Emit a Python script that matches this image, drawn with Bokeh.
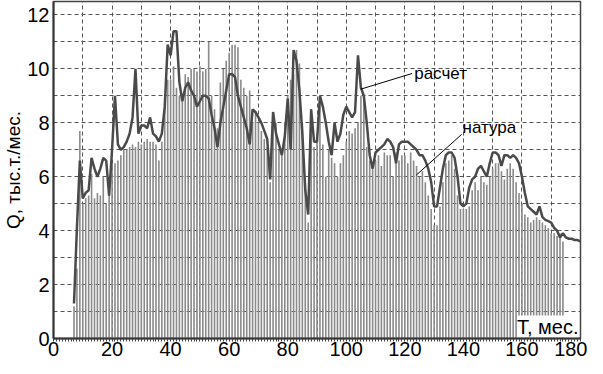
from bokeh.plotting import figure
from bokeh.models import SingleIntervalTicker, Range1d
from bokeh.core.properties import value
from bokeh.embed import file_html
from bokeh.resources import INLINE

FONT = "Liberation Sans"

# расчет (calculated), months 7..180
calc = [
    1.3, 4.1, 6.6, 5.2, 5.4, 5.5, 6.7, 6.3, 6.0, 6.3,
    6.7, 6.6, 5.3, 7.0, 9.0, 7.2, 7.0, 7.1, 7.3, 7.6,
    8.2, 10.0, 7.6, 7.9, 7.9, 7.8, 8.2, 7.6, 7.5, 7.3,
    7.6, 8.6, 10.9, 10.5, 11.4, 11.4, 9.5, 8.8, 9.3, 9.5,
    9.2, 9.0, 8.6, 8.8, 9.0, 9.0, 8.9, 8.3, 7.8, 7.1,
    8.0, 8.6, 9.2, 9.8, 9.8, 9.7, 9.0, 8.6, 8.2, 7.8,
    7.2, 8.5, 8.4, 8.2, 8.0, 7.7, 7.4, 5.9, 8.4, 7.6,
    7.2, 6.8, 7.5, 8.9, 7.0, 10.7, 10.3, 9.2, 7.6, 5.5,
    4.6, 8.5, 7.3, 7.3, 9.0, 8.6, 8.0, 7.3, 6.8, 8.0,
    7.3, 7.6, 8.3, 8.6, 8.4, 8.2, 8.4, 10.5, 9.3, 9.0,
    8.0, 6.8, 6.3, 6.9, 7.0, 7.1, 7.2, 7.4, 7.3, 7.1,
    6.5, 7.2, 7.3, 7.3, 7.3, 7.2, 7.1, 7.0, 6.8, 6.8,
    6.6, 6.3, 5.8, 4.9, 4.9, 5.6, 6.3, 6.8, 6.9, 6.9,
    6.7, 6.0, 5.0, 4.9, 5.0, 5.6, 5.9, 6.0, 6.3, 6.4,
    6.2, 6.0, 6.5, 6.9, 6.9, 6.8, 6.4, 6.8, 6.8, 6.7,
    6.8, 6.7, 6.5, 6.0, 5.4, 4.9, 4.8, 4.7, 4.6, 4.9,
    4.5, 4.4, 4.35, 4.3, 4.1, 4.0, 3.75, 3.9, 3.75, 3.7,
    3.7, 3.65, 3.65, 3.6,
]
calc_start = 7

# натура (observed), months 7..174
fact = [
    1.2, 2.6, 7.7, 5.0, 5.2, 5.3, 6.1, 5.2, 5.4, 5.3,
    6.0, 5.0, 6.0, 6.5, 6.5, 6.6, 6.8, 7.0, 7.0, 7.1,
    7.2, 7.1, 7.3, 7.2, 7.3, 7.4, 7.3, 7.3, 7.2, 6.6,
    7.3, 8.9, 9.6, 9.6, 10.1, 9.3, 9.0, 8.8, 9.8, 9.7,
    10.0, 10.0, 9.9, 10.1, 9.9, 10.0, 11.0, 9.0, 8.5, 7.8,
    9.5, 10.0, 10.3, 10.6, 10.9, 10.9, 10.8, 9.6, 9.3, 9.0,
    9.2, 8.0, 8.4, 8.0, 7.7, 7.4, 7.1, 5.8, 8.3, 8.0,
    7.0, 6.9, 8.0, 9.0, 9.6, 9.8, 10.7, 10.2, 8.0, 5.8,
    4.3, 8.5, 7.1, 7.4, 9.0, 7.2, 6.0, 7.0, 6.7, 6.5,
    6.0, 6.5, 6.8, 7.3, 7.7, 7.6, 7.8, 8.0, 9.0, 9.0,
    7.1, 6.6, 6.4, 6.6, 6.8, 6.4, 6.9, 6.8, 6.8, 6.0,
    6.9, 6.6, 6.8, 6.8, 6.5, 6.9, 6.6, 6.4, 6.0, 6.2,
    5.8, 5.3, 4.8, 4.2, 4.2, 4.9, 5.8, 6.5, 6.6, 6.8,
    6.3, 5.3, 4.8, 4.8, 4.8, 4.9, 5.5, 5.8, 5.5, 6.0,
    5.8, 5.7, 6.0, 6.3, 6.5, 6.5, 6.2, 5.9, 6.3, 6.5,
    6.3, 5.8, 5.4, 5.0, 4.6, 4.5, 4.3, 4.4, 4.5, 4.4,
    4.3, 4.2, 4.1, 3.9, 3.9, 3.8, 3.9, 3.6,
]
fact_start = 7

x_major = 20
x_grid = 10
y_major = 2
y_grid = 1

labels = ["расчет", "натура"]
x_title = "T, мес."
y_title = "Q, тыс.т./мес."

calc_x = list(range(calc_start, calc_start + len(calc)))
fact_x = list(range(fact_start, fact_start + len(fact)))

p = figure(width=587, height=358, output_backend="svg", toolbar_location=None,
           x_range=Range1d(0, 180), y_range=Range1d(0, 12.5),
           min_border_left=49, min_border_right=7, min_border_top=1, min_border_bottom=20)
p.background_fill_color = "white"
p.border_fill_color = "white"
p.outline_line_color = "#444444"
p.outline_line_width = 1.5

# bars (натура)
p.vbar(x=fact_x, top=fact, width=0.55, bottom=0,
       fill_color="#8a8a8a", line_color=None)

# line (расчет)
p.line(calc_x, calc, line_color="#4a4a4a", line_width=2.5)

# axes
xa = p.xaxis[0]
xa.ticker = SingleIntervalTicker(interval=x_major, num_minor_ticks=x_major)
xa.major_label_text_font = FONT
xa.major_label_text_font_size = "20px"
xa.major_label_text_color = "black"
xa.major_label_standoff = 0
xa.major_tick_out = 2
xa.major_tick_in = 0
xa.minor_tick_out = 3
xa.minor_tick_in = 0
xa.axis_line_color = "#333333"
xa.axis_line_width = 2
xa.major_tick_line_color = "#444444"
xa.minor_tick_line_color = "#444444"

ya = p.yaxis[0]
ya.ticker = SingleIntervalTicker(interval=y_major, num_minor_ticks=0)
ya.major_label_text_font = FONT
ya.major_label_text_font_size = "20px"
ya.major_label_text_color = "black"
ya.major_label_standoff = 4
ya.major_tick_out = 0
ya.major_tick_in = 0
ya.minor_tick_line_color = None
ya.axis_line_color = "#333333"
ya.axis_line_width = 2
ya.axis_label = y_title
ya.axis_label_text_font = FONT
ya.axis_label_text_font_size = "19px"
ya.axis_label_text_font_style = "normal"
ya.axis_label_text_color = "black"
ya.axis_label_standoff = 0

# grid
p.xgrid.ticker = SingleIntervalTicker(interval=x_grid)
p.ygrid.ticker = SingleIntervalTicker(interval=y_grid)
for g in (p.xgrid[0], p.ygrid[0]):
    g.grid_line_color = "#555555"
    g.grid_line_dash = "4 3"
    g.grid_line_width = 1

# annotations
p.segment(x0=[105.0], y0=[9.25], x1=[122.5], y1=[9.83], line_color="black", line_width=1)
p.segment(x0=[123.9], y0=[6.06], x1=[139.4], y1=[7.57], line_color="black", line_width=1)
p.text(x=[123.2], y=[9.83], text=[labels[0]], text_font=value(FONT), text_font_size="17px",
       text_baseline="middle", text_align="left", text_color="black")
p.text(x=[139.7], y=[7.83], text=[labels[1]], text_font=value(FONT), text_font_size="17px",
       text_baseline="middle", text_align="left", text_color="black")
p.text(x=[180], y=[0], text=[x_title], text_font=value(FONT), text_font_size="20px",
       text_baseline="bottom", text_align="right", text_color="black",
       x_offset=-2, y_offset=-1,
       background_fill_color="white", background_fill_alpha=1.0)

open("out.html", "w").write(file_html(p, INLINE))
